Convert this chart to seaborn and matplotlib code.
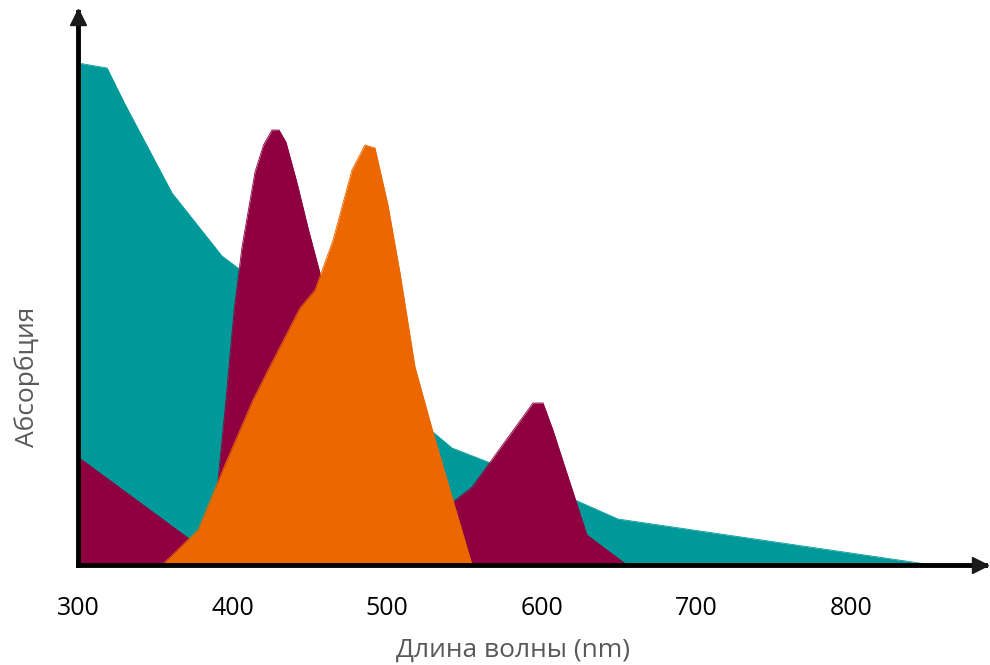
import matplotlib
matplotlib.use("Agg")
import matplotlib.pyplot as plt
import matplotlib.transforms as mtransforms
import seaborn as sns
import numpy as np

# --- data (wavelength nm, absorbance arbitrary units) ---
teal_wl = [300, 318.8, 330, 360.8, 393.1, 403.5, 463, 529.6, 541.9, 565.2, 621.5, 649.3, 702.3, 853]
teal_ab = [502, 497, 462, 372, 309, 297, 220, 133, 117, 103, 65, 46, 34, 0]

mag_wl = [300, 371.2, 382.1, 390.6, 395.7, 401.0, 406.1, 414.5, 420.0, 425.5, 430, 434.5, 441.7, 448.8,
          456.5, 482.4, 508.3, 534.2, 542.6, 554.9, 594.3, 600.8, 607.2, 629.2, 655.1]
mag_ab = [108, 27, 15, 85, 165, 255, 318, 393, 420, 435, 435, 423, 382, 337,
          292, 185, 105, 60, 63, 78, 162, 162, 135, 30, 0]

orange_wl = [354.3, 377.6, 395.0, 413.2, 422.3, 443.6, 453.3, 465, 477.2, 485.6, 492.1, 500.5,
             508.3, 518, 529.6, 554.9]
orange_ab = [0, 35, 100, 165, 193, 257, 275, 325, 395, 420, 417, 360, 292, 198, 133, 0]

xticks = [300, 400, 500, 600, 700, 800]
xlabel = "Длина волны (nm)"
ylabel = "Абсорбция"

series = [
    (teal_wl, teal_ab, "#009999"),
    (mag_wl, mag_ab, "#8E0040"),
    (orange_wl, orange_ab, "#EC6700"),
]

sns.set_theme(style="white")
plt.rcParams["font.family"] = ["Open Sans", "DejaVu Sans"]

fig = plt.figure(figsize=(9.9, 6.65), dpi=100)
ax = fig.add_axes([78 / 990, 100 / 665, 907 / 990, 553 / 665])

for wl, ab, col in series:
    ax.fill_between(wl, ab, 0, color=col, linewidth=0, zorder=2)
    sns.lineplot(x=wl, y=ab, color=col, linewidth=0.6, ax=ax, zorder=2, sort=False)

ax.set_xlim(300, 886.7)
ax.set_ylim(0, 553)

for s in ["top", "right"]:
    ax.spines[s].set_visible(False)
for s in ["left", "bottom"]:
    ax.spines[s].set_color("black")
    ax.spines[s].set_linewidth(3.5)
    ax.spines[s].set_zorder(5)

tr_x = mtransforms.offset_copy(ax.transAxes, fig=fig, x=-5, y=0, units="dots")
tr_y = mtransforms.offset_copy(ax.transAxes, fig=fig, x=0, y=-5, units="dots")
ax.plot(1, 0, ">k", markersize=11, transform=tr_x, clip_on=False, zorder=6)
ax.plot(0, 1, "^k", markersize=11, transform=tr_y, clip_on=False, zorder=6)

ax.set_xticks(xticks)
ax.set_xticklabels([str(t) for t in xticks])
ax.set_yticks([])
ax.tick_params(axis="x", length=0, pad=22, labelsize=18, labelcolor="black")
ax.grid(False)

fig.text(513 / 990, 1 - 650 / 665, xlabel, ha="center", va="center",
         fontsize=19, color="#595959")
fig.text(27 / 990, 1 - 377 / 665, ylabel, ha="center", va="center",
         rotation=90, fontsize=19, color="#595959")

fig.savefig("out.png", dpi=100)
